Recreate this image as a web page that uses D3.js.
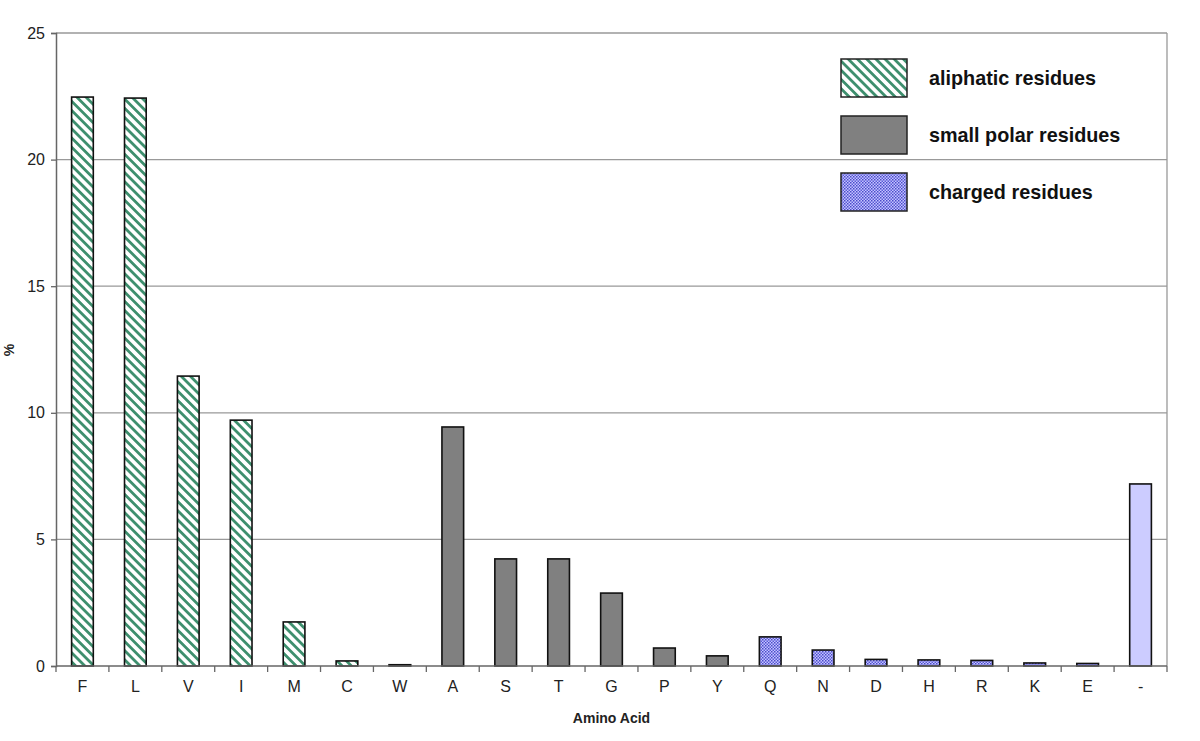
<!DOCTYPE html>
<html>
<head>
<meta charset="utf-8">
<script src="https://cdn.jsdelivr.net/npm/d3@7"></script>
<style>
  body { margin: 0; background: #fff; }
  text { font-family: Arial, "Liberation Sans", sans-serif; }
</style>
</head>
<body>
<div id="chart"></div>
<script>
// data
const aminoAcids = ["F","L","V","I","M","C","W","A","S","T","G","P","Y","Q","N","D","H","R","K","E","-"];
const percents   = [22.47,22.43,11.45,9.71,1.74,0.2,0.05,9.44,4.23,4.23,2.88,0.71,0.4,1.15,0.63,0.26,0.24,0.22,0.12,0.1,7.19];
const groups     = ["ali","ali","ali","ali","ali","ali","ali","pol","pol","pol","pol","pol","pol","chg","chg","chg","chg","chg","chg","chg","gap"];
const yTicks     = [0,5,10,15,20,25];
const legendLabels = ["aliphatic residues","small polar residues","charged residues"];
const legendKeys   = ["ali","pol","chg"];

const width = 1200, height = 741;
const margin = {top: 33, right: 33, bottom: 75, left: 56};

let svg = d3.select("#chart").append("svg")
	.attr("width", width)
	.attr("height", height);

//patterns
let defs = svg.append("defs");
let stripe = defs.append("pattern")
	.attr("id", "stripes")
	.attr("patternUnits", "userSpaceOnUse")
	.attr("width", 6.5).attr("height", 6.5)
	.attr("patternTransform", "rotate(45)");
stripe.append("rect").attr("width", 6.5).attr("height", 6.5).attr("fill", "#fff");
stripe.append("rect").attr("width", 6.5).attr("height", 2.8).attr("fill", "#3e8f6e");

let dots = defs.append("pattern")
	.attr("id", "dots")
	.attr("patternUnits", "userSpaceOnUse")
	.attr("width", 3).attr("height", 3);
dots.append("rect").attr("width", 3).attr("height", 3).attr("fill", "#c4c4ff");
dots.append("rect").attr("width", 1.5).attr("height", 1.5).attr("fill", "#4a4ac8");
dots.append("rect").attr("x", 1.5).attr("y", 1.5).attr("width", 1.5).attr("height", 1.5).attr("fill", "#5a5ad8");

const fills = {ali: "url(#stripes)", pol: "#808080", chg: "url(#dots)", gap: "#ccccff"};

let x = d3.scaleBand()
	.domain(aminoAcids)
	.range([margin.left, width - margin.right])
	.paddingInner(0.59)
	.paddingOuter(0.295);

let xTick = d3.scaleLinear()
	.domain([0, aminoAcids.length])
	.range([margin.left, width - margin.right]);

let y = d3.scaleLinear()
	.domain([0, 25])
	.range([height - margin.bottom, margin.top]);

//gridlines
svg.append("g")
	.selectAll("line")
	.data(yTicks.filter(d => d > 0))
	.enter()
	.append("line")
	.attr("x1", margin.left).attr("x2", width - margin.right)
	.attr("y1", d => y(d)).attr("y2", d => y(d))
	.attr("stroke", "#999").attr("stroke-width", 1.3);

//right border
svg.append("line")
	.attr("x1", width - margin.right).attr("x2", width - margin.right)
	.attr("y1", margin.top).attr("y2", y(0))
	.attr("stroke", "#999").attr("stroke-width", 1.3);

//bars
svg.append("g")
	.selectAll("rect")
	.data(aminoAcids)
	.enter()
	.append("rect")
	.attr("x", d => x(d))
	.attr("width", x.bandwidth())
	.attr("y", (d, i) => y(percents[i]))
	.attr("height", (d, i) => y(0) - y(percents[i]))
	.attr("fill", (d, i) => fills[groups[i]])
	.attr("stroke", "#111")
	.attr("stroke-width", 1.6);

//y axis
let yAxis = svg.append("g")
	.attr("transform", "translate(" + margin.left + ",0)")
	.call(d3.axisLeft(y).tickValues(yTicks).tickSize(5).tickPadding(6));
yAxis.select(".domain").attr("stroke", "#666").attr("stroke-width", 1.5);
yAxis.selectAll(".tick line").attr("stroke", "#666").attr("stroke-width", 1.3);
yAxis.selectAll("text").attr("font-size", 16).attr("fill", "#222")
	.attr("font-family", "Arial, 'Liberation Sans', sans-serif");

//x axis: ticks between categories
let xAxisG = svg.append("g")
	.attr("transform", "translate(0," + y(0) + ")");
xAxisG.append("line")
	.attr("x1", margin.left).attr("x2", width - margin.right)
	.attr("stroke", "#666").attr("stroke-width", 1.5);
xAxisG.selectAll(".tk")
	.data(d3.range(aminoAcids.length + 1))
	.enter()
	.append("line")
	.attr("class", "tk")
	.attr("x1", d => xTick(d)).attr("x2", d => xTick(d))
	.attr("y1", 0).attr("y2", 6)
	.attr("stroke", "#666").attr("stroke-width", 1.3);
xAxisG.selectAll("text")
	.data(aminoAcids)
	.enter()
	.append("text")
	.attr("x", d => x(d) + x.bandwidth() / 2)
	.attr("y", 26)
	.attr("text-anchor", "middle")
	.attr("font-size", 16)
	.attr("fill", "#222")
	.text(d => d);

//axis titles
svg.append("text")
	.attr("x", (margin.left + width - margin.right) / 2)
	.attr("y", 723)
	.attr("text-anchor", "middle")
	.attr("font-size", 14)
	.attr("font-weight", "bold")
	.attr("fill", "#222")
	.text("Amino Acid");

svg.append("text")
	.attr("transform", "translate(14,350) rotate(-90)")
	.attr("text-anchor", "middle")
	.attr("font-size", 14)
	.attr("font-weight", "bold")
	.attr("fill", "#222")
	.text("%");

//legend
let legend = svg.append("g")
	.selectAll("g")
	.data(legendKeys)
	.enter()
	.append("g")
	.attr("transform", (d, i) => "translate(841," + (59 + i * 57) + ")");
legend.append("rect")
	.attr("width", 66).attr("height", 38)
	.attr("fill", d => fills[d])
	.attr("stroke", "#222").attr("stroke-width", 1.5);
legend.append("text")
	.attr("x", 88).attr("y", 26)
	.attr("font-size", 19.8)
	.attr("font-weight", "bold")
	.attr("fill", "#111")
	.text((d, i) => legendLabels[i]);
</script>
</body>
</html>
